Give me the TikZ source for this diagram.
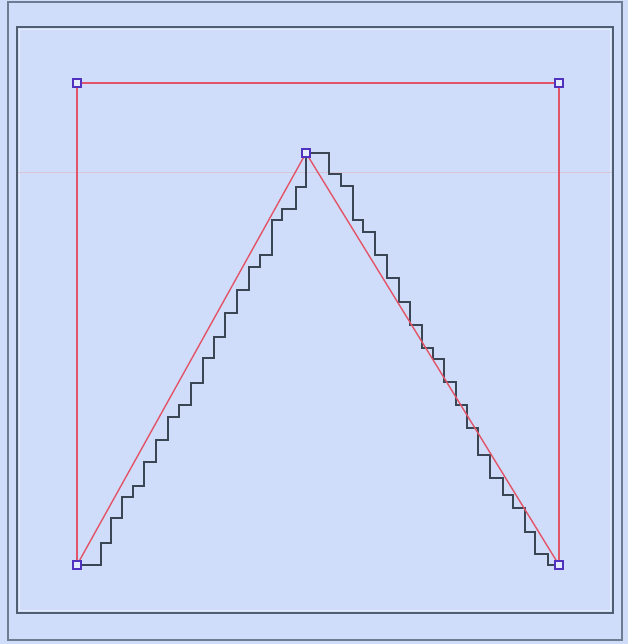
\documentclass[tikz,border=0pt]{standalone}
\definecolor{bgblue}{RGB}{208,221,250}
\definecolor{outerframe}{RGB}{110,124,146}
\definecolor{innerframe}{RGB}{80,94,114}
\definecolor{ctrlred}{RGB}{226,84,104}
\definecolor{handleblue}{RGB}{80,50,190}
\definecolor{stairgray}{RGB}{58,70,84}
\definecolor{guidepink}{RGB}{214,198,214}
\begin{document}
\begin{tikzpicture}[x=1pt,y=-1pt,
  handle/.style={draw=handleblue,line width=1.3pt,fill=bgblue!60!white,rectangle,minimum size=8pt,inner sep=0pt},
  ctrl/.style={draw=ctrlred,line width=1.4pt},
  stair/.style={draw=stairgray,line width=1.5pt,line join=miter},
  guide/.style={draw=guidepink,line width=1pt}]
\useasboundingbox (0,0) rectangle (628,644);
\fill[bgblue] (0,0) rectangle (628,644);
\draw[outerframe,line width=1.5pt] (8,2) rectangle (622,640);
\draw[innerframe,line width=2pt] (17,27) rectangle (613,613);
\draw[white!40!bgblue,line width=0.8pt] (19.5,29.5) rectangle (610.5,610.5);
\coordinate (gl) at (18,173);
\coordinate (gr) at (612,173);
\draw[guide] (gl) -- (gr);
% staircase
\draw[stair] (79,565) -- (101,565) -- (101,543) -- (111,543) -- (111,518) -- (122,518) -- (122,497) -- (133,497) -- (133,486) -- (144,486) -- (144,462) -- (156,462) -- (156,440) -- (168,440) -- (168,417) -- (179,417) -- (179,405) -- (191,405) -- (191,383) -- (203,383) -- (203,358) -- (214,358) -- (214,337) -- (225,337) -- (225,313) -- (237,313) -- (237,290) -- (249,290) -- (249,267) -- (260,267) -- (260,255) -- (272,255) -- (272,220) -- (282,220) -- (282,209) -- (296,209) -- (296,187) -- (306,187) -- (306,153)
 -- (329,153) -- (329,174) -- (341,174) -- (341,186) -- (353,186) -- (353,220) -- (363,220) -- (363,232) -- (375,232) -- (375,255) -- (387,255) -- (387,278) -- (399,278) -- (399,302) -- (410,302) -- (410,325) -- (422,325) -- (422,348) -- (433,348) -- (433,359) -- (444,359) -- (444,382) -- (456,382) -- (456,405) -- (467,405) -- (467,428) -- (478,428) -- (478,455) -- (490,455) -- (490,478) -- (503,478) -- (503,495) -- (513,495) -- (513,508) -- (525,508) -- (525,532) -- (535,532) -- (535,554) -- (548,554) -- (548,565) -- (557,565);
% control polygon
\node[handle] (p1) at (77,565) {};
\node[handle] (p2) at (77,83) {};
\node[handle] (p3) at (559,83) {};
\node[handle] (p4) at (559,565) {};
\node[handle] (apex) at (306,153) {};
\draw[ctrl] (p1.north) -- (p2.south);
\draw[ctrl] (p2.east) -- (p3.west);
\draw[ctrl] (p3.south) -- (p4.north);
\draw[ctrl] (p1.center) -- (apex.center);
\draw[ctrl] (apex.center) -- (p4.center);
\node[handle] at (p1) {};
\node[handle] at (apex) {};
\node[handle] at (p4) {};
\end{tikzpicture}
\end{document}
